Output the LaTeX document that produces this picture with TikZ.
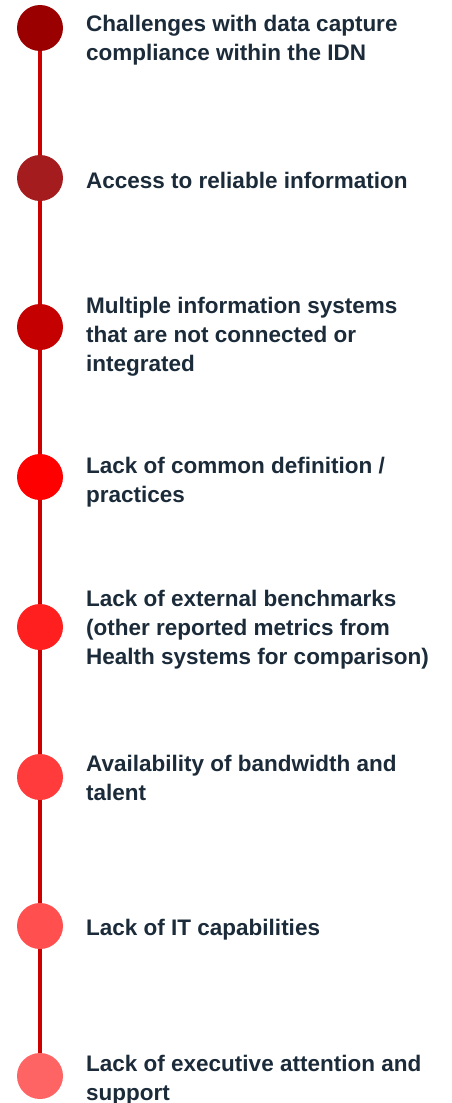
\documentclass[tikz,border=0pt]{standalone}
\usepackage{fontspec}
\setmainfont{Liberation Sans}
\usepackage{xcolor}
\usetikzlibrary{positioning}
\definecolor{spine}{HTML}{CC0000}
\definecolor{ink}{HTML}{1C2B39}
\definecolor{shade1}{HTML}{9B0000}
\definecolor{shade2}{HTML}{A51C1F}
\definecolor{shade3}{HTML}{C40000}
\definecolor{shade4}{HTML}{FF0000}
\definecolor{shade5}{HTML}{FF1F1F}
\definecolor{shade6}{HTML}{FF3B3B}
\definecolor{shade7}{HTML}{FF4F4F}
\definecolor{shade8}{HTML}{FF6464}

\begin{document}
\begin{tikzpicture}[x=1pt, y=-1pt,
    dot/.style={circle, minimum size=46pt, inner sep=0pt},
    link/.style={draw=spine, line width=4.5pt},
    item/.style={anchor=north west, inner sep=0pt, align=left, text=ink,
                 font=\bfseries\fontsize{22.5}{29}\selectfont}]
  \useasboundingbox (0,0) rectangle (451,1103);

  % --- Markers ---
  \foreach \i/\y/\col in {1/28/shade1, 2/178/shade2, 3/327/shade3, 4/477/shade4,
                          5/627/shade5, 6/777/shade6, 7/926/shade7, 8/1076/shade8} {
    \node[dot, fill=\col] (c\i) at (40,\y) {};
  }

  % --- Spine between markers ---
  \foreach \i [evaluate=\i as \j using int(\i+1)] in {1,...,7} {
    \draw[link] (c\i) -- (c\j);
  }

  % --- Labels ---
  \node[item] (t1) at (86,14.7)   {Challenges with data capture\\compliance within the IDN};
  \node[item] (t2) at (86,171.7)  {Access to reliable information};
  \node[item] (t3) at (86,296.7)  {Multiple information systems\\that are not connected or\\integrated};
  \node[item] (t4) at (86,456.7)  {Lack of common definition /\\practices};
  \node[item] (t5) at (86,589.7)  {Lack of external benchmarks\\(other reported metrics from\\Health systems for comparison)};
  \node[item] (t6) at (86,755.4)  {Availability of bandwidth and\\talent};
  \node[item] (t7) at (86,918.7)  {Lack of IT capabilities};
  \node[item] (t8) at (86,1055.4) {Lack of executive attention and\\support};
\end{tikzpicture}
\end{document}
